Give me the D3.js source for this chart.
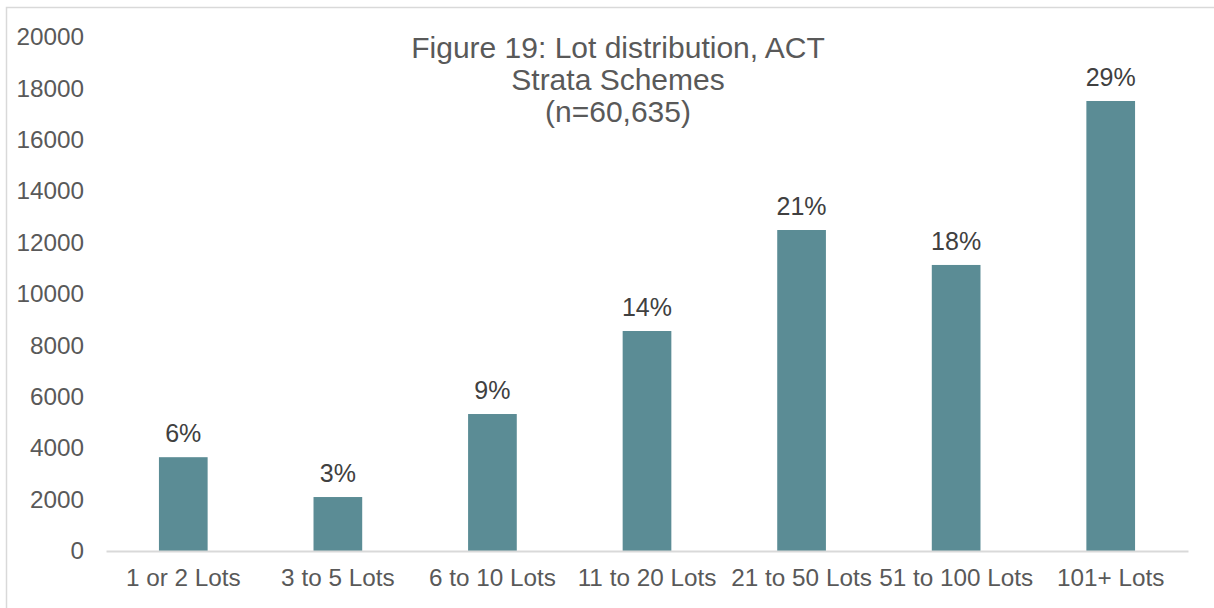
<!DOCTYPE html>
<html>
<head>
<meta charset="utf-8">
<script src="https://cdn.jsdelivr.net/npm/d3@7"></script>
<style>
  html, body { margin: 0; padding: 0; background: #ffffff; }
  svg { display: block; font-family: "Liberation Sans", Arial, sans-serif; }
</style>
</head>
<body>
<svg id="chart" width="1214" height="608"></svg>
<script>
// Lot counts per scheme-size band, ACT strata schemes
const categories = ["1 or 2 Lots", "3 to 5 Lots", "6 to 10 Lots", "11 to 20 Lots", "21 to 50 Lots", "51 to 100 Lots", "101+ Lots"];
const lotCounts = [3650, 2100, 5330, 8560, 12490, 11130, 17510];
const shareLabels = ["6%", "3%", "9%", "14%", "21%", "18%", "29%"];
const yTicks = [0, 2000, 4000, 6000, 8000, 10000, 12000, 14000, 16000, 18000, 20000];
const titleLines = ["Figure 19: Lot distribution, ACT", "Strata Schemes", "(n=60,635)"];

const svg = d3.select("#chart");
const W = 1214, H = 608;
const plot = { left: 106, right: 1188, top: 37, bottom: 551 };

// outer frame
svg.append("rect")
  .attr("x", 6.5).attr("y", 7.5)
  .attr("width", W).attr("height", H)
  .attr("fill", "none").attr("stroke", "#d9d9d9").attr("stroke-width", 1.5);

const x = d3.scaleBand()
  .domain(categories)
  .range([plot.left, plot.right])
  .paddingInner(0.685).paddingOuter(0.3425);

const y = d3.scaleLinear()
  .domain([0, 20000])
  .range([plot.bottom, plot.top]);

// y axis: labels only
const yAxis = svg.append("g")
  .attr("transform", `translate(${plot.left - 22},0)`)
  .call(d3.axisLeft(y).tickValues(yTicks).tickSize(0).tickPadding(0).tickFormat(d3.format("d")));
yAxis.select(".domain").remove();
yAxis.selectAll("text")
  .attr("fill", "#595959").attr("font-size", 24.3)
  .attr("font-family", "Liberation Sans, Arial, sans-serif");

// bars
svg.append("g").selectAll("rect")
  .data(categories)
  .join("rect")
  .attr("x", d => x(d))
  .attr("width", x.bandwidth())
  .attr("y", (d, i) => y(lotCounts[i]))
  .attr("height", (d, i) => y(0) - y(lotCounts[i]))
  .attr("fill", "#5b8c95");

// x axis baseline and category labels
const xAxis = svg.append("g")
  .attr("transform", `translate(0,${plot.bottom})`)
  .call(d3.axisBottom(x).tickSize(0).tickPadding(18));
xAxis.select(".domain").attr("stroke", "#d9d9d9").attr("stroke-width", 2);
xAxis.selectAll("text")
  .attr("fill", "#595959").attr("font-size", 24.3)
  .attr("font-family", "Liberation Sans, Arial, sans-serif");

// percentage share labels above each bar
svg.append("g").selectAll("text")
  .data(categories)
  .join("text")
  .attr("x", d => x(d) + x.bandwidth() / 2)
  .attr("y", (d, i) => y(lotCounts[i]) - 15)
  .attr("text-anchor", "middle")
  .attr("fill", "#404040").attr("font-size", 25)
  .text((d, i) => shareLabels[i]);

// title
svg.append("g").selectAll("text")
  .data(titleLines)
  .join("text")
  .attr("x", 618)
  .attr("y", (d, i) => 58 + i * 32)
  .attr("text-anchor", "middle")
  .attr("fill", "#595959").attr("font-size", 30)
  .text(d => d);
</script>
</body>
</html>
